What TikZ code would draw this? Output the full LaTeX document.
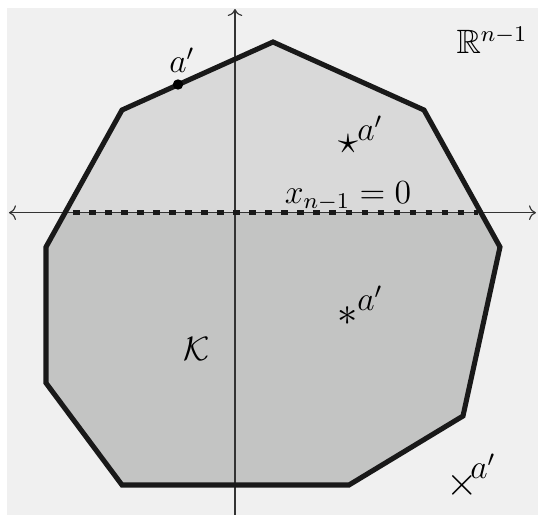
\documentclass[tikz,border=0pt]{standalone}
\usepackage{amsmath}
\usepackage{amssymb}
\usetikzlibrary{arrows.meta}

\definecolor{bggray}{HTML}{F0F0F0}
\definecolor{upgray}{HTML}{D9D9D9}
\definecolor{lowgray}{HTML}{C3C4C3}

\begin{document}
\begin{tikzpicture}[x=0.0125cm,y=-0.0125cm,
    axis/.style={line width=0.4pt,black!80},
    rim/.style={line width=1.8pt,black!90,line join=miter},
    cutline/.style={line width=1.8pt,black!90,dash pattern=on 2.4pt off 3.3pt},
    lbl/.style={font=\large,inner sep=0pt},
    ptsym/.style={font=\fontsize{15}{18}\selectfont,inner sep=0pt}]
  \useasboundingbox (0,0) rectangle (538,515);
  \clip (0,0) rectangle (538,515);
  % ===================== fondo =====================
  \fill[bggray] (7.5,7.5) rectangle (540,520);
  % vertices del poligono K
  \coordinate (top) at (273,42);
  \coordinate (ul) at (122,110);
  \coordinate (l) at (46,247);
  \coordinate (ll) at (46,383);
  \coordinate (bl) at (122,485);
  \coordinate (br) at (349,485);
  \coordinate (lr) at (463,416);
  \coordinate (r) at (500,247);
  \coordinate (ur) at (424,110);
  \coordinate (cutl) at (65,212.7);
  \coordinate (cutr) at (481,212.7);
  % ===================== relleno =====================
  \fill[upgray] (cutl)--(ul)--(top)--(ur)--(cutr)--cycle;
  \fill[lowgray] (cutl)--(l)--(ll)--(bl)--(br)--(lr)--(r)--(cutr)--cycle;
  % ===================== ejes =====================
  \draw[axis,<->] (9,212.7)--(536,212.7);
  \draw[axis,<->] (235,522)--(235,9);
  % ===================== borde y corte =====================
  \draw[rim] (top)--(ul)--(l)--(ll)--(bl)--(br)--(lr)--(r)--(ur)--cycle;
  \draw[cutline] (73,212.7)--(478,212.7);
  % ===================== puntos a' =====================
  \fill (178,84.5) circle (5.2);
  \node[lbl] (adot) at (182,60) {$a'$};
  \node[ptsym] (star) at (348,144) {$\star$};
  \node[lbl] (astar) at (370,128) {$a'$};
  \node[ptsym] (ast) at (348,316) {$*$};
  \node[lbl] (aast) at (370,298) {$a'$};
  \node[ptsym] (cross) at (462,485) {$\times$};
  \node[lbl] (across) at (483,466) {$a'$};
  % ===================== etiquetas =====================
  \node[lbl] (cut) at (348,196) {$x_{n-1}=0$};
  \node[lbl] (K) at (197,349) {$\mathcal{K}$};
  \node[lbl] (space) at (492,40) {$\mathbb{R}^{n-1}$};
\end{tikzpicture}
\end{document}
